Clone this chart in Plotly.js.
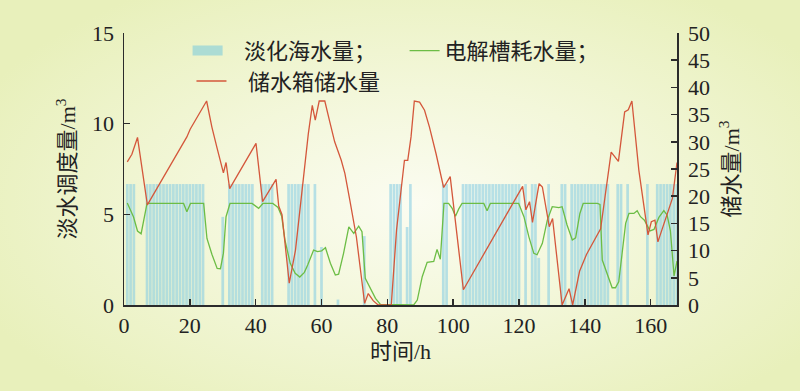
<!DOCTYPE html>
<html>
<head>
<meta charset="utf-8">
<script src="https://cdn.plot.ly/plotly-3.0.1.min.js"></script>
<style>
  html, body { margin: 0; padding: 0; }
  body {
    width: 800px; height: 391px; overflow: hidden;
    background: radial-gradient(ellipse 60% 65% at 52% 52%, #fbfcf1 0%, #f3f7da 45%, #e8f0bb 100%);
  }
  #chart { width: 800px; height: 391px; }
</style>
</head>
<body>
<div id="chart"></div>
<script>
// ---- Data ----
// Desalinated water (left axis, m3), hourly bars
const barHours = [1,2,3,7,8,9,10,11,12,13,14,15,16,17,18,19,20,21,22,23,24,30,32,33,34,35,36,37,38,39,42,43,44,45,50,51,52,53,54,55,56,58,60,65,73,81,82,83,84,86,87,97,98,103,104,105,106,107,108,109,110,111,112,113,114,115,116,117,118,119,120,122,124,125,126,129,133,134,136,137,138,139,140,141,142,143,144,145,146,147,150,151,153,159,162,163,164,165,166,167,168];
const barValues = [6.67,6.67,6.67,6.67,6.67,6.67,6.67,6.67,6.67,6.67,6.67,6.67,6.67,6.67,6.67,6.67,6.67,6.67,6.67,6.67,6.67,4.86,6.67,6.67,6.67,6.67,6.67,6.67,6.67,6.67,6.67,6.67,6.67,6.67,6.67,6.67,6.67,6.67,6.67,6.67,6.67,6.67,3.2,0.3,3.8,6.67,6.67,6.67,6.67,4.3,6.67,6.67,6.67,6.67,6.67,6.67,6.67,6.67,6.67,6.67,6.67,6.67,6.67,6.67,6.67,6.67,6.67,6.67,6.67,6.67,6.67,6.67,6.67,6.67,2.6,6.67,6.67,6.67,6.67,6.67,6.67,6.67,6.67,6.67,6.67,6.67,6.67,6.67,6.67,6.67,6.67,6.67,6.67,6.67,6.67,6.67,6.67,6.67,6.67,6.67,6.67];

// Electrolyzer water consumption (left axis, m3)
const elecHours = [1,2.9,4.1,5.2,7,18.1,19.1,20.2,24.2,25.2,26.7,28.3,29.3,30.2,31,32.2,38.9,40.9,42.2,45.2,46.8,47.9,48.9,50.5,52,53.4,54.8,55.8,57.6,58.8,60,61.2,62.7,64.2,65.2,66.7,68.3,69.8,71.3,72.3,73.3,74.9,76.4,77.9,88,89.1,90.6,92.1,94.1,95.1,96.1,97.2,98.6,99.7,100.7,101.7,102.7,109.3,110.3,111.3,119.9,121.5,123,124.5,125.5,127.1,128.6,130.1,132.1,133.1,134.6,136.2,137.2,138.5,139.5,143.8,144.6,145.3,146.8,148.3,149.3,150.3,152.4,153.4,154.9,155.9,156.9,158.1,159.8,161,162.5,164,165,166,167.1,168];
const elecValues = [5.62,4.85,4.08,3.93,5.6,5.6,5.14,5.6,5.6,3.67,2.8,2.02,2.0,2.86,4.87,5.6,5.6,5.33,5.6,5.6,5.38,4.9,3.58,2.3,1.75,1.54,1.8,2.2,3.03,2.94,2.98,3.16,2.3,1.65,1.7,2.85,4.31,3.95,4.35,4.04,1.47,0.92,0.37,0.03,0.0,0.27,1.56,2.35,2.4,3.07,2.52,5.6,5.6,5.33,4.9,5.3,5.6,5.6,5.2,5.6,5.6,4.87,3.76,2.85,2.77,3.4,4.68,5.42,5.37,5.42,4.41,3.58,3.7,5.05,5.6,5.6,5.55,2.48,1.65,0.95,0.95,1.28,4.5,5.05,5.05,5.2,4.87,4.68,4.09,4.17,4.83,5.2,4.96,4.09,1.6,2.42];

// Water tank storage (right axis, m3)
const tankHours = [1,2.4,4.1,7.1,19.1,20.1,25.1,26.7,28.3,30.2,31,32.1,40.1,42.1,46.2,47,48,50.2,52.1,56,57.2,58.1,59.3,61,62.5,64,66,67.1,68.6,70.6,72.1,73.1,74.2,75.7,77.2,81.2,82.8,84.3,85.2,86.2,87.2,88.2,89.8,91.3,92.8,94.8,97.1,99.1,103.1,121.1,122.1,123.2,124.1,126.1,127.1,129.2,130.2,133.1,135.2,136.3,138.4,140.5,144.8,148,150.2,152.1,153.2,154.3,156.4,159.2,160.2,161.3,162.2,166.6,168];
const tankValues = [26.3,27.7,30.8,18.4,30.9,32.3,37.5,32.7,28.8,24.3,26.2,21.4,29.7,19.0,23.1,18.2,16.6,4.0,10.1,31.5,36.7,34.0,37.5,37.5,33.7,30.0,26.6,24.2,19.3,12.5,5.2,0.3,2.1,0.8,0.0,0.0,13.8,21.7,26.6,26.6,30.9,37.5,37.3,35.8,32.7,27.8,21.6,23.6,2.8,21.8,17.5,19.0,15.2,22.3,21.7,14.4,15.9,0.0,3.0,0.0,6.2,9.3,14.0,28.1,26.4,35.5,35.9,37.5,24.8,12.9,15.3,15.6,11.6,19.6,26.2];

const legendNames = ['淡化海水量；', '电解槽耗水量；', '储水箱储水量'];
const xTicks = [0,20,40,60,80,100,120,140,160];
const yTicks = [0,5,10,15];
const y2Ticks = [0,5,10,15,20,25,30,35,40,45,50];

// ---- Styling ----
const barColor = 'rgba(135,205,228,0.58)';
const legendBarColor = 'rgba(150,212,215,0.75)';
const greenColor = '#6cbd45';
const redColor = '#d4573b';
const axisColor = '#2b2b2b';
const numFont = "'Liberation Serif', 'Times New Roman', serif";
const cjkFont = "'Liberation Serif', 'Noto Sans CJK SC', sans-serif";
const pad = '\u00a0\u00a0\u00a0';

const traces = [
  {
    type: 'bar', x: barHours, y: barValues, width: 0.82,
    marker: { color: barColor, line: { width: 0 } },
    yaxis: 'y', showlegend: false, hoverinfo: 'skip'
  },
  {
    type: 'scatter', mode: 'lines', x: [null], y: [null],
    name: pad + legendNames[0], line: { color: legendBarColor, width: 10 },
    yaxis: 'y', showlegend: true, legend: 'legend'
  },
  {
    type: 'scatter', mode: 'lines', x: elecHours, y: elecValues,
    name: legendNames[1], line: { color: greenColor, width: 1.3 },
    yaxis: 'y', legend: 'legend'
  },
  {
    type: 'scatter', mode: 'lines', x: tankHours, y: tankValues,
    name: pad + legendNames[2], line: { color: redColor, width: 1.3 },
    yaxis: 'y2', legend: 'legend2'
  }
];

const axisCommon = {
  showline: true, linecolor: axisColor, linewidth: 1.5,
  ticks: 'inside', ticklen: 6, tickwidth: 1.5, tickcolor: axisColor,
  showgrid: false, zeroline: false,
  tickfont: { family: numFont, size: 22, color: '#222' }
};

const legendFont = { family: cjkFont, size: 22, color: '#222' };

const layout = {
  width: 800, height: 391,
  margin: { l: 124, r: 123, t: 33, b: 86 },
  paper_bgcolor: 'rgba(0,0,0,0)', plot_bgcolor: 'rgba(0,0,0,0)',
  barmode: 'overlay',
  showlegend: true,
  legend: {
    orientation: 'h', x: 0.115, y: 1.012, xanchor: 'left', yanchor: 'top',
    entrywidth: 172, bgcolor: 'rgba(0,0,0,0)', font: legendFont,
    traceorder: 'normal'
  },
  legend2: {
    orientation: 'h', x: 0.122, y: 0.9, xanchor: 'left', yanchor: 'top',
    bgcolor: 'rgba(0,0,0,0)', font: legendFont
  },
  xaxis: Object.assign({}, axisCommon, {
    range: [0, 168], tickvals: xTicks, ticktext: xTicks.map(String),
    title: { text: '时间/h', font: { family: cjkFont, size: 22, color: '#222' }, standoff: 6 }
  }),
  yaxis: Object.assign({}, axisCommon, {
    range: [0, 15], tickvals: yTicks, ticktext: yTicks.map(String),
    ticklabelstandoff: 4,
    title: { text: '淡水调度量/m<sup>3</sup>', font: { family: cjkFont, size: 22, color: '#222' }, standoff: 10 }
  }),
  yaxis2: Object.assign({}, axisCommon, {
    range: [0, 50], tickvals: y2Ticks, ticktext: y2Ticks.map(String),
    overlaying: 'y', side: 'right', ticklabelstandoff: 5,
    title: { text: '储水量/m<sup>3</sup>', font: { family: cjkFont, size: 22, color: '#222' }, standoff: 14 }
  })
};

Plotly.newPlot('chart', traces, layout, { displayModeBar: false, staticPlot: true });
</script>
</body>
</html>
